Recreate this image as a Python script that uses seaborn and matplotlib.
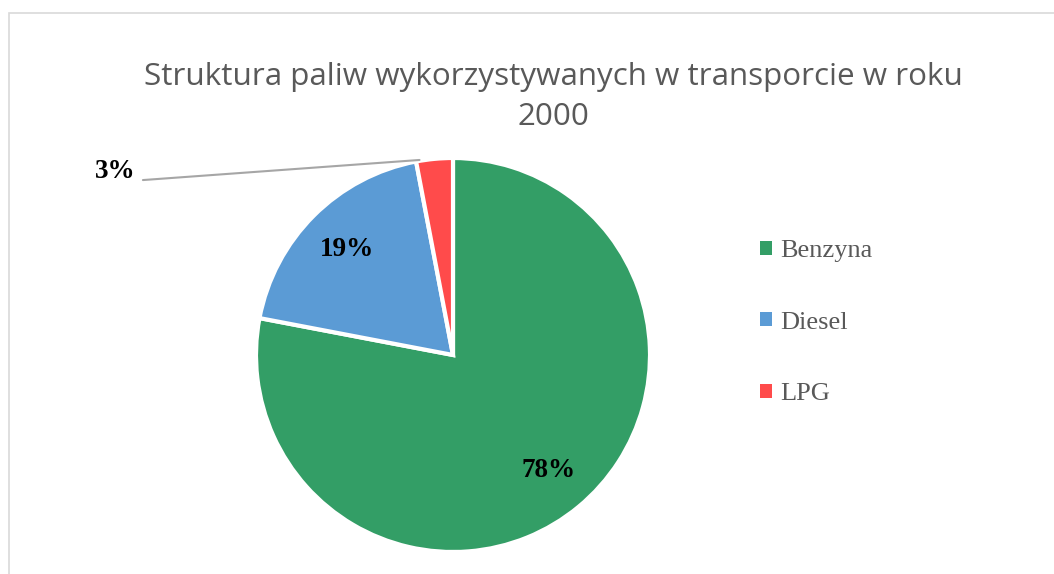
import seaborn as sns
import matplotlib.pyplot as plt
from matplotlib.patches import Rectangle
from matplotlib.lines import Line2D

fuels = ['Benzyna', 'Diesel', 'LPG']
shares = [78, 19, 3]
colors = ['#339E66', '#5B9BD5', '#FF4B4B']
title = 'Struktura paliw wykorzystywanych w transporcie w roku\n2000'

sns.set_theme(style='white')

fig = plt.figure(figsize=(10.54, 5.74), dpi=100)
fig.patch.set_facecolor('white')

# chart frame (only left/top visible in the reference)
fig.patches.append(Rectangle((9 / 1054, -0.1), 1.2, (574 - 13) / 574 + 0.1,
                             transform=fig.transFigure, fill=False,
                             edgecolor='#D9D9D9', linewidth=1.2))

# pie axes: centre (453, 355) px, radius 197 px
ax = fig.add_axes([(453 - 197) / 1054, (574 - 355 - 197) / 574, 394 / 1054, 394 / 574])
wedges, texts, autotexts = ax.pie(
    shares, colors=colors, startangle=90, counterclock=False,
    autopct='%.0f%%', pctdistance=0.76,
    wedgeprops=dict(edgecolor='white', linewidth=3),
    textprops=dict(family='Liberation Serif', fontsize=19.5, fontweight='bold', color='black'))
ax.set_xlim(-1, 1)
ax.set_ylim(-1, 1)
ax.set_aspect('equal')
ax.axis('off')

# small slice label placed outside with leader line
autotexts[2].set_visible(False)
ax.add_line(Line2D([-1.574, -0.17], [0.888, 0.99], color='#A6A6A6', linewidth=1.5, clip_on=False))
ax.text(-1.716, 0.929, f'{shares[2]}%', ha='center', va='center', family='Liberation Serif',
        fontsize=19.5, fontweight='bold', color='black', clip_on=False)

fig.text(553 / 1054, 1 - 97 / 574, title, ha='center', va='center', family='Open Sans',
         fontsize=22.6, color='#595959', linespacing=1.45)

leg = fig.legend(wedges, fuels, loc='upper left', bbox_to_anchor=(760 / 1054, 1 - 240 / 574),
                 frameon=False, handlelength=0.45, handleheight=0.45, handletextpad=0.3,
                 borderpad=0, borderaxespad=0,
                 labelspacing=1.88, prop=dict(family='Liberation Serif', size=19))
for t in leg.get_texts():
    t.set_color('#595959')
for h in leg.legend_handles:
    h.set_edgecolor('none')

fig.savefig('out.png', dpi=100)
